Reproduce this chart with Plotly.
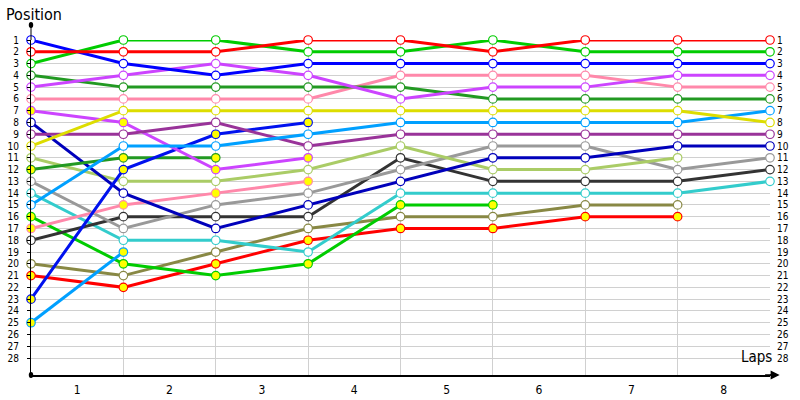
import plotly.graph_objects as go

# ---------------- data ----------------
laps = [0, 1, 2, 3, 4, 5, 6, 7, 8]
lap_label_pos = [0.5, 1.5, 2.5, 3.5, 4.5, 5.5, 6.5, 7.5]
lap_labels = ["1", "2", "3", "4", "5", "6", "7", "8"]
position_ticks = list(range(1, 29))

red_1 = [2, 2, 2, 1, 1, 2, 1, 1, 1]
green_1 = [3, 1, 1, 2, 2, 1, 2, 2, 2]
blue_1 = [1, 3, 4, 3, 3, 3, 3, 3, 3]
violet_1 = [5, 4, 3, 4, 6, 5, 5, 4, 4]
dkgreen_1 = [4, 5, 5, 5, 5, 6, 6, 6, 6]
pink_1 = [6, 6, 6, 6, 4, 4, 4, 5, 5]
yellow_1 = [10, 7, 7, 7, 7, 7, 7, 7, 8]
azure_1 = [15, 10, 10, 9, 8, 8, 8, 8, 7]
purple_1 = [9, 9, 8, 10, 9, 9, 9, 9, 9]
navy_1 = [8, 14, 17, 15, 13, 11, 11, 10, 10]
lime_1 = [11, 13, 13, 12, 10, 12, 12, 11, None]
grey_1 = [13, 17, 15, 14, 12, 10, 10, 12, 11]
black_1 = [18, 16, 16, 16, 11, 13, 13, 13, 12]
cyan_1 = [14, 18, 18, 19, 14, 14, 14, 14, 13]
olive_1 = [20, 21, 19, 17, 16, 16, 15, 15, None]
violet_2 = [7, 8, 12, 11, None, None, None, None, None]
blue_2 = [23, 12, 9, 8, None, None, None, None, None]
dkgreen_2 = [12, 11, 11, None, None, None, None, None, None]
pink_2 = [17, 15, 14, 13, None, None, None, None, None]
green_2 = [16, 20, 21, 20, 15, 15, None, None, None]
red_2 = [21, 22, 20, 18, 17, 17, 16, 16, None]
azure_2 = [25, 19, None, None, None, None, None, None, None]

# (values, line colour, marker fill)
series = [
    (olive_1, "#888844", "white"),
    (red_2, "#ff0000", "#ffff00"),
    (green_2, "#00cc00", "#ffff00"),
    (cyan_1, "#33cccc", "white"),
    (azure_2, "#00a0ff", "#ffff00"),
    (black_1, "#333333", "white"),
    (grey_1, "#999999", "white"),
    (pink_2, "#ff88aa", "#ffff00"),
    (lime_1, "#aacc66", "white"),
    (navy_1, "#0000bb", "white"),
    (dkgreen_2, "#229922", "#ffff00"),
    (blue_2, "#0011ee", "#ffff00"),
    (violet_2, "#cc44ff", "#ffff00"),
    (purple_1, "#993399", "white"),
    (azure_1, "#00a0ff", "white"),
    (yellow_1, "#dddd00", "white"),
    (pink_1, "#ff88aa", "white"),
    (dkgreen_1, "#229922", "white"),
    (violet_1, "#cc44ff", "white"),
    (blue_1, "#0000ff", "white"),
    (green_1, "#00cc00", "white"),
    (red_1, "#ff0000", "white"),
]

FONT = "DejaVu Sans Condensed, DejaVu Sans, sans-serif"

fig = go.Figure()
for vals, col, fill in series:
    fig.add_trace(go.Scatter(
        x=laps, y=vals, mode="lines+markers",
        line=dict(color=col, width=3),
        marker=dict(size=8.5, color=fill, line=dict(color=col, width=1.2)),
        cliponaxis=False, showlegend=False, hoverinfo="skip",
        connectgaps=False,
    ))

# invisible trace for right axis
fig.add_trace(go.Scatter(x=[0], y=[1], yaxis="y2", mode="markers",
                         marker=dict(opacity=0), showlegend=False, hoverinfo="skip"))

fig.update_layout(
    width=800, height=400,
    margin=dict(l=31, r=30, t=40, b=25),
    plot_bgcolor="white", paper_bgcolor="white",
    font=dict(family=FONT, color="#000000"),
    xaxis=dict(
        range=[0, 8], tickmode="array", tickvals=lap_label_pos, ticktext=lap_labels,
        showgrid=False, zeroline=False, showline=True, linecolor="black", linewidth=1.5,
        ticks="", tickfont=dict(size=12, family=FONT), ticklabelstandoff=3,
        automargin=False,
        minor=dict(tickmode="array", tickvals=laps[1:], showgrid=True,
                   gridcolor="#d0d0d0", gridwidth=1, ticks=""),
    ),
    yaxis=dict(
        range=[29.44, 1], tickmode="array", tickvals=position_ticks,
        ticktext=[str(p) for p in position_ticks],
        showgrid=True, gridcolor="#d0d0d0", gridwidth=1, zeroline=False,
        showline=True, linecolor="black", linewidth=1,
        ticks="outside", ticklen=3, tickcolor="black",
        tickfont=dict(size=10, family=FONT), ticklabelstandoff=6,
        automargin=False,
    ),
    yaxis2=dict(
        range=[29.44, 1], overlaying="y", side="right", anchor="x",
        tickmode="array", tickvals=position_ticks,
        ticktext=[str(p) for p in position_ticks],
        showgrid=False, zeroline=False, showline=False, ticks="",
        tickfont=dict(size=10, family=FONT), ticklabelstandoff=6,
        automargin=False,
    ),
)

# axis extensions (decorative)
fig.add_shape(type="line", xref="paper", yref="paper", x0=0, x1=0, y0=1, y1=1.045,
              line=dict(color="black", width=1))
fig.add_shape(type="circle", xref="paper", yref="paper",
              x0=-0.003, x1=0.003, y0=1.036, y1=1.054,
              fillcolor="black", line=dict(color="black", width=0))
fig.add_shape(type="circle", xref="paper", yref="paper",
              x0=-0.003, x1=0.003, y0=-0.009, y1=0.009,
              fillcolor="black", line=dict(color="black", width=0))
fig.add_shape(type="line", xref="paper", yref="paper", x0=1, x1=1.01, y0=0, y1=0,
              line=dict(color="black", width=1.5))
fig.add_annotation(xref="paper", yref="paper", x=1.013, y=0, ax=-16, ay=0,
                   axref="pixel", ayref="pixel", text="", showarrow=True,
                   arrowhead=2, arrowsize=1.2, arrowwidth=1.5, arrowcolor="black")

fig.add_annotation(xref="paper", yref="paper", x=-0.036, y=1.075, xanchor="left",
                   yanchor="middle", text="Position", showarrow=False,
                   font=dict(size=16, family=FONT))
fig.add_annotation(xref="paper", yref="paper", x=0.9585, y=0.022, xanchor="left",
                   yanchor="bottom", text="Laps", showarrow=False,
                   font=dict(size=15, family=FONT))

fig.write_html("out.html", config={"displayModeBar": False},
               post_script="document.body.style.margin='0';document.body.style.padding='0';")
